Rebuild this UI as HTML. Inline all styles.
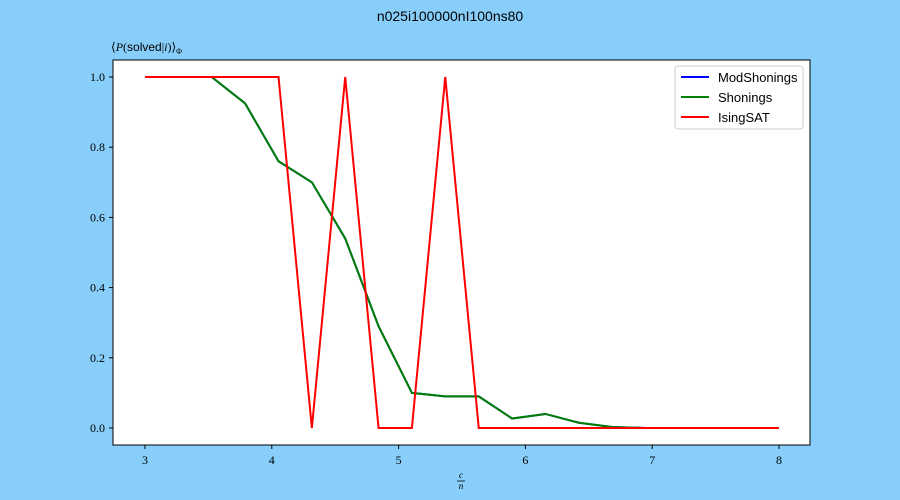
<!DOCTYPE html>
<html><head><meta charset="utf-8"><style>
body{margin:0;background:#87cefa;}
svg{display:block;}
</style></head><body>
<svg width="900" height="500" xmlns="http://www.w3.org/2000/svg">
<rect width="900" height="500" fill="#87cefa"/>
<text x="450" y="21" text-anchor="middle" font-family="Liberation Sans, sans-serif" font-size="14">n025i100000nI100ns80</text>
<rect x="113" y="60" width="697" height="385" fill="#fff" stroke="#000" stroke-width="1"/>
<text x="111" y="51" font-family="Liberation Serif, serif" font-size="12">⟨<tspan font-style="italic">P</tspan>(<tspan font-family="Liberation Sans, sans-serif">solved</tspan>|<tspan font-style="italic">i</tspan>)⟩<tspan font-size="8" dy="3">Φ</tspan></text>
<g font-family="Liberation Serif, serif" font-size="11">
<text x="461" y="478" text-anchor="middle" font-style="italic" font-size="9">c</text>
<line x1="457" y1="481" x2="465" y2="481" stroke="#000" stroke-width="0.8"/>
<text x="461" y="489" text-anchor="middle" font-style="italic" font-size="9">n</text>
</g>
<g id="axes"></g>
<g id="series"></g>
<g>
<rect x="675" y="66" width="128" height="63" fill="#fff" stroke="#ccc" rx="3"/>
<line x1="681" y1="77" x2="709" y2="77" stroke="#0000ff" stroke-width="2"/>
<text x="718" y="82" font-family="Liberation Sans, sans-serif" font-size="13">ModShonings</text>
<line x1="681" y1="97" x2="709" y2="97" stroke="#008000" stroke-width="2"/>
<text x="718" y="102" font-family="Liberation Sans, sans-serif" font-size="13">Shonings</text>
<line x1="681" y1="117" x2="709" y2="117" stroke="#ff0000" stroke-width="2"/>
<text x="718" y="122" font-family="Liberation Sans, sans-serif" font-size="13">IsingSAT</text>
</g>
</svg>
<script>
const xValues=[3,3.263,3.526,3.789,4.053,4.316,4.579,4.842,5.105,5.368,5.632,5.895,6.158,6.421,6.684,6.947,7.211,7.474,7.737,8];
const shonings=[1,1,1,0.925,0.76,0.70,0.54,0.29,0.10,0.09,0.09,0.027,0.04,0.015,0.003,0,0,0,0,0];
const modShonings=[1,1,1,0.925,0.76,0.70,0.54,0.29,0.10,0.09,0.09,0.027,0.04,0.015,0.003,0,0,0,0,0];
const isingSAT=[1,1,1,1,1,0,1,0,0,1,0,0,0,0,0,0,0,0,0,0];
const xTicks=[3,4,5,6,7,8];
const yTicks=[0,0.2,0.4,0.6,0.8,1.0];
const NS="http://www.w3.org/2000/svg";
const xs=v=>145+(v-3)*126.8;
const ys=v=>428-v*351;
const axes=document.getElementById('axes');
xTicks.forEach(t=>{
 const l=document.createElementNS(NS,'line');
 l.setAttribute('x1',xs(t));l.setAttribute('x2',xs(t));l.setAttribute('y1',445);l.setAttribute('y2',449);l.setAttribute('stroke','#000');
 
 
 axes.appendChild(l);
 const tx=document.createElementNS(NS,'text');
 tx.setAttribute('x',xs(t));tx.setAttribute('y',464);tx.setAttribute('text-anchor','middle');
 tx.setAttribute('font-family','Liberation Serif, serif');tx.setAttribute('font-size','12');
 tx.textContent=t;
 
 
 axes.appendChild(tx);
});
yTicks.forEach(t=>{
 const l=document.createElementNS(NS,'line');
 l.setAttribute('x1',109);l.setAttribute('x2',113);l.setAttribute('y1',ys(t));l.setAttribute('y2',ys(t));l.setAttribute('stroke','#000');
 
 
 axes.appendChild(l);
 const tx=document.createElementNS(NS,'text');
 tx.setAttribute('x',105);tx.setAttribute('y',ys(t)+4);tx.setAttribute('text-anchor','end');
 tx.setAttribute('font-family','Liberation Serif, serif');tx.setAttribute('font-size','12');
 tx.textContent=t.toFixed(1);
 
 
 axes.appendChild(tx);
});
const series=document.getElementById('series');
function draw(vals,color,name){
 const p=document.createElementNS(NS,'polyline');
 p.setAttribute('points',vals.map((v,i)=>xs(xValues[i])+','+ys(v)).join(' '));
 p.setAttribute('fill','none');p.setAttribute('stroke',color);p.setAttribute('stroke-width','2');
 
 
 series.appendChild(p);
}
draw(modShonings,'#0000ff','modshonings-line');
draw(shonings,'#008000','shonings-line');
draw(isingSAT,'#ff0000','isingsat-line');
</script>
</body></html>
